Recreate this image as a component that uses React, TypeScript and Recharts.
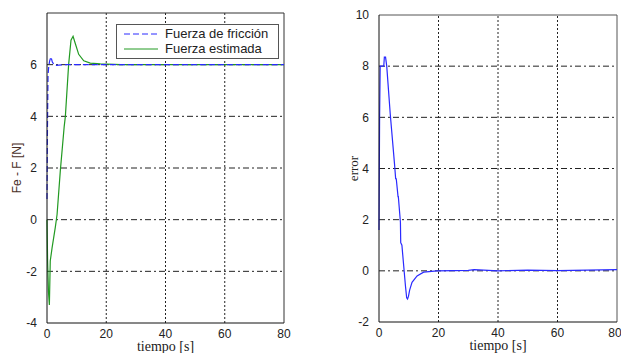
import React from "react";
import { LineChart, Line, XAxis, YAxis, ReferenceLine } from "recharts";

// fricción (blue dashed), left plot
const fricT = [0, 0.15, 0.35, 0.6, 0.9, 1.35, 1.8, 2.5, 3.2, 4, 6, 10, 20, 40, 60, 80];
const fricV = [0.8, 3.5, 5.6, 5.95, 6.15, 6.3, 6.1, 5.98, 5.97, 5.98, 6.0, 6.0, 6.0, 6.0, 6.0, 6.0];

// fuerza estimada (green), left plot
const estT = [0, 0.2, 0.5, 0.8, 1.1, 1.7, 2.8, 3.4, 4.5, 5.8, 6.2, 7.3, 8.1, 8.8, 9.6, 10.7, 12.4, 14.6, 18, 25, 40, 60, 80];
const estV = [0, -1.6, -2.8, -3.3, -1.6, -1.1, -0.3, 0.2, 1.9, 3.6, 4.0, 6.0, 6.95, 7.1, 6.8, 6.4, 6.15, 6.06, 6.03, 6.0, 6.0, 6.0, 6.0];

// error, right plot
const errT = [0, 0.2, 0.4, 1.6, 1.8, 2.2, 2.6, 3.8, 5.2, 5.6, 5.8, 6.4, 6.5, 7.2, 7.3, 7.7, 8.3, 8.9, 9.3, 9.6, 9.9, 10.3, 11.1, 12.8, 15, 19.5, 30, 32, 40, 50, 60, 70, 80];
const errV = [1.6, 6.0, 8.0, 8.0, 8.35, 8.35, 8.0, 6.1, 4.2, 3.6, 3.6, 2.9, 2.9, 1.9, 1.1, 1.0, 0.2, -0.6, -1.05, -1.1, -1.0, -0.75, -0.45, -0.2, -0.05, 0.0, 0.02, 0.05, 0.0, 0.03, 0.01, 0.03, 0.05];

const xTicks = [0, 20, 40, 60, 80];
const xGrid = [20, 40, 60];
const leftYTicks = [-4, -2, 0, 2, 4, 6];
const leftYGrid = [-2, 0, 2, 4, 6];
const rightYTicks = [-2, 0, 2, 4, 6, 8, 10];
const rightYGrid = [0, 2, 4, 6, 8];

const zip = (t: number[], v: number[]) => t.map((x, i) => ({ t: x, v: v[i] }));
const fricData = zip(fricT, fricV);
const estData = zip(estT, estV);
const errData = zip(errT, errV);

const BLUE = "#2a2aff";
const GREEN = "#229a22";
const tick = { fontSize: 12, fill: "#222", fontFamily: "Liberation Sans, Arial" };
const xLabelStyle = { fontFamily: "Liberation Serif, serif", fontSize: 14, fill: "#222" };

const LegendBox = () => (
  <div
    style={{
      position: "absolute",
      left: 116,
      top: 24,
      width: 163,
      height: 35,
      border: "1.5px solid #555",
      background: "#fff",
      fontFamily: "Liberation Sans, Arial",
      fontSize: 13,
      color: "#222",
      boxSizing: "border-box",
      padding: "1px 0 0 6px",
      lineHeight: "15px",
    }}
  >
    <div style={{ display: "flex", alignItems: "center" }}>
      <svg width={36} height={10}>
        <line x1={1} y1={5} x2={35} y2={5} stroke={BLUE} strokeDasharray="6 3" />
      </svg>
      <span style={{ marginLeft: 6 }}>Fuerza de fricción</span>
    </div>
    <div style={{ display: "flex", alignItems: "center" }}>
      <svg width={36} height={10}>
        <line x1={1} y1={5} x2={35} y2={5} stroke={GREEN} />
      </svg>
      <span style={{ marginLeft: 6 }}>Fuerza estimada</span>
    </div>
  </div>
);

export default function App() {
  return (
    <div style={{ position: "absolute", left: 0, top: 0, width: 621, height: 353, background: "#fff" }}>
      <div style={{ position: "absolute", left: 0, top: 0 }}>
        <LineChart width={300} height={353} margin={{ top: 13, right: 16, left: 0, bottom: 0 }}>
          <XAxis
            dataKey="t"
            type="number"
            domain={[0, 80]}
            ticks={xTicks}
            height={30}
            tickLine={false}
            axisLine={{ stroke: "#111" }}
            tick={tick}
            tickMargin={0}
            label={{ value: "tiempo [s]", position: "insideBottom", offset: 2, style: xLabelStyle }}
          />
          <YAxis
            type="number"
            domain={[-4, 8]}
            ticks={leftYTicks}
            width={47}
            tickLine={false}
            axisLine={{ stroke: "#111" }}
            tick={tick}
            tickMargin={4}
            label={{
              value: "Fe - F [N]",
              angle: -90,
              position: "insideLeft",
              offset: 17,
              style: { textAnchor: "middle", fontSize: 12, fill: "#4a3028", fontFamily: "Liberation Sans, Arial" },
            }}
          />
          {leftYGrid.map((y) => (
            <ReferenceLine key={"h" + y} y={y} stroke="#222" strokeDasharray="6 3 2 3" />
          ))}
          {xGrid.map((x) => (
            <ReferenceLine key={"v" + x} x={x} stroke="#222" strokeDasharray="2 2" />
          ))}
          <ReferenceLine y={8} stroke="#333" />
          <ReferenceLine x={80} stroke="#333" />
          <Line data={estData} dataKey="v" type="linear" stroke={GREEN} strokeWidth={1.2} dot={false} isAnimationActive={false} />
          <Line data={fricData} dataKey="v" type="linear" stroke={BLUE} strokeWidth={1.2} strokeDasharray="6 3" dot={false} isAnimationActive={false} />
        </LineChart>
        <LegendBox />
      </div>
      <div style={{ position: "absolute", left: 320, top: 0 }}>
        <LineChart width={301} height={353} margin={{ top: 15, right: 4, left: 0, bottom: 0 }}>
          <XAxis
            dataKey="t"
            type="number"
            domain={[0, 80]}
            ticks={xTicks}
            height={31}
            tickLine={false}
            axisLine={{ stroke: "#111" }}
            tick={tick}
            tickMargin={0}
            label={{ value: "tiempo [s]", position: "insideBottom", offset: 3, style: xLabelStyle }}
          />
          <YAxis
            type="number"
            domain={[-2, 10]}
            ticks={rightYTicks}
            width={59}
            tickLine={false}
            axisLine={{ stroke: "#111" }}
            tick={tick}
            tickMargin={4}
            label={{
              value: "error",
              angle: -90,
              position: "insideLeft",
              offset: 33,
              style: { textAnchor: "middle", ...xLabelStyle, fontSize: 13 },
            }}
          />
          {rightYGrid.map((y) => (
            <ReferenceLine key={"h" + y} y={y} stroke="#222" strokeDasharray="6 3 2 3" />
          ))}
          {xGrid.map((x) => (
            <ReferenceLine key={"v" + x} x={x} stroke="#222" strokeDasharray="2 2" />
          ))}
          <ReferenceLine y={10} stroke="#555" />
          <ReferenceLine x={80} stroke="#555" />
          <Line data={errData} dataKey="v" type="linear" stroke={BLUE} strokeWidth={1.2} dot={false} isAnimationActive={false} />
        </LineChart>
      </div>
    </div>
  );
}
